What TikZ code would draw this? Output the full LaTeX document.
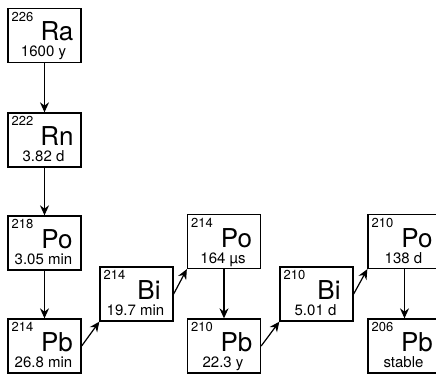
\documentclass[tikz,border=0pt]{standalone}
\usepackage{fontspec}
\setmainfont{TeX Gyre Heros}
\usetikzlibrary{arrows.meta}

\begin{document}
\begin{tikzpicture}[x=1pt, y=-1pt,
    nuc/.style={draw, line width=1.3pt, minimum width=73pt, minimum height=54pt, inner sep=0pt},
    mass/.style={anchor=north west, inner sep=0pt, font=\fontsize{13}{13}\selectfont},
    sym/.style={anchor=base, inner sep=0pt, font=\fontsize{26}{26}\selectfont},
    half/.style={anchor=base, inner sep=0pt, font=\fontsize{15}{15}\selectfont},
    decay/.style={-{Stealth[length=10pt, width=9pt]}, line width=1.2pt}]
  \useasboundingbox (0,0) rectangle (436,374);
  % nuclides: name / x / y / mass number / symbol / half-life
  \foreach \id/\x/\y/\m/\s/\t in
    {ra226/44.5/35.5/226/Ra/1600 y, rn222/44.5/140/222/Rn/3.82 d,
     po218/44.5/243/218/Po/3.05 min, pb214/44.5/346/214/Pb/26.8 min,
     bi214/136.5/294/214/Bi/19.7 min, po214/224/241.5/214/Po/164 µs,
     pb210/224/346/210/Pb/22.3 y, bi210/316.5/294/210/Bi/5.01 d,
     po210/404.5/241.5/210/Po/138 d, pb206/404.5/346/206/Pb/stable}
  {
    \node[nuc] (\id) at (\x,\y) {};
    \node[mass] (\id-m) at ([shift={(4,4)}]\id.north west) {\m};
    \node[sym] (\id-s) at ([shift={(12.5,5.5)}]\id.center) {\s};
    \node[half] (\id-t) at ([shift={(-1,21.5)}]\id.center) {\t};
  }
  % alpha decays
  \draw[decay] (ra226.south) -- (rn222.north);
  \draw[decay] (rn222.south) -- (po218.north);
  \draw[decay] (po218.south) -- (pb214.north);
  \draw[decay] (po214.south) -- (pb210.north);
  \draw[decay] (po210.south) -- (pb206.north);
  % beta decays
  \draw[decay] (pb214.east) -- (bi214.south west);
  \draw[decay] (bi214.east) -- (po214.south west);
  \draw[decay] (pb210.east) -- (bi210.south west);
  \draw[decay] (bi210.east) -- (po210.south west);
\end{tikzpicture}
\end{document}
